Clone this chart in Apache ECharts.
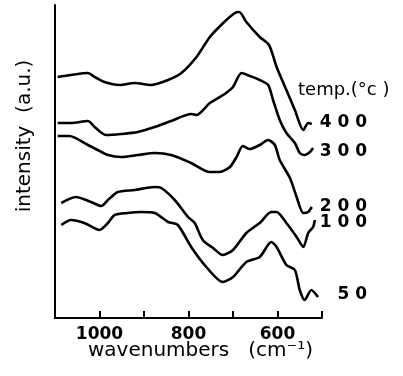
<!DOCTYPE html>
<html><head><meta charset="utf-8">
<script src="https://cdn.jsdelivr.net/npm/echarts@6/dist/echarts.min.js"></script>
<style>html,body{margin:0;padding:0;background:#fff}#c{width:403px;height:376px}</style>
</head><body><div id="c"></div>
<script>
// Wavenumber (cm-1) and relative intensity (a.u., stacked offsets) for each temperature
const wn400 = [1094,1064,1026,1011,989,955,921,884,846,816,782,752,722,696,686,670,640,619,602,580,561,542,531,523];
const in400 = [241,243,245,241,236,233,235,233,238,245,261,281,295,305,306,296,281,273,251,228,208,188,195,194];
const wn300 = [1094,1064,1026,1011,985,951,914,876,839,794,782,752,722,700,681,662,640,621,610,595,580,561,550,539,527,520];
const in300 = [195,195,197,191,183,184,186,191,197,204,203,215,223,231,245,242,238,233,218,198,185,175,165,163,166,170];
const wn200 = [1094,1068,1026,1004,981,951,914,876,839,794,752,730,707,692,678,662,640,621,606,595,572,557,542,531,523];
const in200 = [182,182,173,168,163,161,163,165,163,155,146,146,151,161,172,169,173,178,173,158,140,121,105,106,111];
const wn100 = [1086,1053,1019,996,981,959,921,876,861,831,801,786,768,745,723,700,670,640,614,602,580,557,542,531,520,516];
const in100 = [115,121,116,112,118,126,128,131,130,118,101,95,78,70,63,68,85,95,106,106,95,81,71,85,91,98];
const wn50 = [1086,1064,1034,1000,981,966,936,906,876,846,824,794,760,723,700,670,640,614,602,580,561,550,539,524,509];
const in50 = [93,98,95,88,95,103,105,106,105,96,93,71,51,36,41,56,61,76,71,53,48,28,18,28,21];
const tickLabels = ['1000','800','600'];
const tempLabels = ['4 0 0','3 0 0','2 0 0','1 0 0','5 0'];

const pairs = (w, v) => w.map((x, i) => [x, v[i]]);
const series = [[wn400,in400],[wn300,in300],[wn200,in200],[wn100,in100],[wn50,in50]].map(([w,v]) => ({
  type: 'line', data: pairs(w, v), showSymbol: false, smooth: 0.25,
  lineStyle: {color: '#000', width: 2.6}, silent: true
}));

const chart = echarts.init(document.getElementById('c'), null, {renderer: 'canvas'});
const labY = [123, 152, 207, 223, 295];
const graphics = tempLabels.map((t, i) => ({
  type: 'text', right: 36, top: labY[i] - 9,
  style: {text: t, font: 'bold 17px "DejaVu Sans"', fill: '#000'}
}));
graphics.push({type: 'text', left: 298, top: 81, style: {text: 'temp.(°c )', font: '18px "DejaVu Sans"', fill: '#000'}});
graphics.push({type: 'text', left: 88, top: 341, style: {text: 'wavenumbers   (cm⁻¹)', font: '20px "DejaVu Sans"', fill: '#000'}});
graphics.push({type: 'text', x: 25, y: 136, rotation: Math.PI / 2,
  style: {text: 'intensity  (a.u.)', font: '20px "DejaVu Sans"', fill: '#000', align: 'center', verticalAlign: 'middle'}});

chart.setOption({
  animation: false,
  grid: {left: 55, right: 81, top: 5, bottom: 58},
  xAxis: {
    type: 'value', min: 500, max: 1100, interval: 100, inverse: true,
    axisLine: {lineStyle: {color: '#000', width: 2}},
    axisTick: {inside: true, length: 7, lineStyle: {color: '#000', width: 2}},
    splitLine: {show: false},
    axisLabel: {margin: 8, color: '#000', fontFamily: 'DejaVu Sans', fontWeight: 'bold', fontSize: 17,
      formatter: v => tickLabels.includes(String(v)) ? String(v) : ''}
  },
  yAxis: {
    type: 'value', min: 0, max: 313,
    axisLine: {show: true, lineStyle: {color: '#000', width: 2}},
    axisTick: {show: false}, axisLabel: {show: false}, splitLine: {show: false}
  },
  series: series,
  graphic: graphics
});
</script></body></html>
